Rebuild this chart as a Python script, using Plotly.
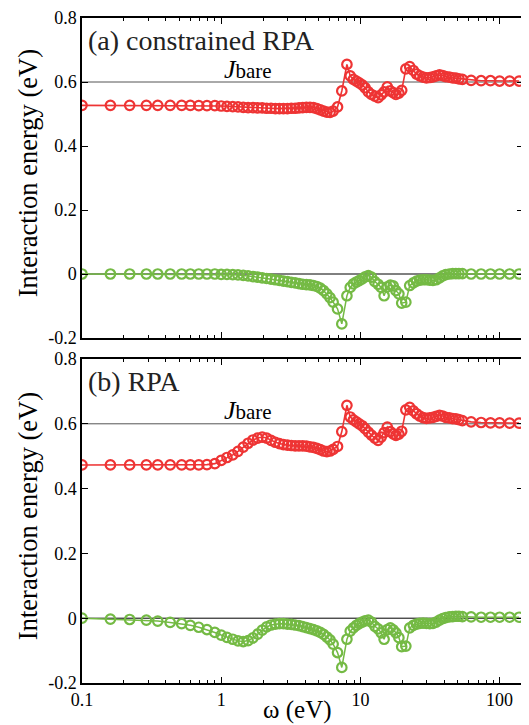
import plotly.graph_objects as go

omega = [0.10, 0.16, 0.22, 0.29, 0.35, 0.43, 0.52, 0.60, 0.69, 0.79, 0.90,
         1.00, 1.10, 1.21, 1.32, 1.44, 1.56, 1.69, 1.83, 1.97, 2.12,
         2.28, 2.45, 2.62, 2.80, 2.99, 3.19, 3.40, 3.62, 3.85, 4.09,
         4.34, 4.60, 4.87, 5.15, 5.44, 5.74, 6.05, 6.37, 6.85, 7.35,
         8.00, 8.45, 8.90, 9.35, 9.80, 10.3, 10.8, 11.4, 12.0, 12.7,
         13.4, 14.1, 14.8, 15.6, 16.4, 17.2, 18.0, 18.9, 19.8, 21.2, 22.6,
         24.0, 25.3, 26.7, 28.2, 29.8, 31.5, 33.2, 35.0, 37.0, 39.0,
         41.0, 43.5, 46.0, 48.5, 51.0, 54.0, 62.4, 73.6, 86.0, 100, 118, 138]

a_red = [0.527, 0.527, 0.527, 0.527, 0.527, 0.527, 0.527, 0.527, 0.526, 0.526, 0.526,
         0.525, 0.524, 0.523, 0.522, 0.521, 0.520, 0.520, 0.519, 0.519, 0.518,
         0.518, 0.517, 0.517, 0.517, 0.517, 0.518, 0.518, 0.519, 0.520, 0.521,
         0.521, 0.520, 0.517, 0.513, 0.509, 0.506, 0.505, 0.509, 0.522, 0.572,
         0.655, 0.619, 0.608, 0.603, 0.597, 0.591, 0.582, 0.569, 0.561, 0.556,
         0.551, 0.560, 0.569, 0.585, 0.572, 0.567, 0.561, 0.565, 0.574, 0.641, 0.648,
         0.636, 0.625, 0.619, 0.615, 0.613, 0.614, 0.616, 0.619, 0.622, 0.620,
         0.617, 0.615, 0.613, 0.612, 0.610, 0.608, 0.605, 0.604, 0.604, 0.603, 0.603, 0.603]

a_green = [0.000, 0.000, 0.000, 0.000, 0.000, 0.000, 0.000, 0.000, 0.000, 0.000, 0.000,
           -0.001, -0.001, -0.002, -0.003, -0.004, -0.006, -0.008, -0.010, -0.012, -0.014,
           -0.016, -0.018, -0.020, -0.022, -0.024, -0.026, -0.028, -0.030, -0.032, -0.033,
           -0.034, -0.036, -0.039, -0.044, -0.052, -0.062, -0.074, -0.088, -0.109, -0.156,
           -0.068, -0.042, -0.031, -0.025, -0.021, -0.015, -0.009, -0.005, -0.010, -0.024,
           -0.032, -0.042, -0.068, -0.040, -0.035, -0.037, -0.052, -0.062, -0.091, -0.088, -0.036,
           -0.028, -0.022, -0.019, -0.018, -0.018, -0.019, -0.020, -0.018, -0.012, -0.006,
           -0.002, 0.000, 0.001, 0.001, 0.001, 0.001, 0.000, 0.000, 0.000, 0.000, 0.000, 0.000]

b_red = [0.473, 0.473, 0.473, 0.473, 0.473, 0.473, 0.473, 0.473, 0.473, 0.474, 0.477,
         0.487, 0.496, 0.504, 0.515, 0.528, 0.540, 0.550, 0.556, 0.559, 0.556,
         0.549, 0.543, 0.539, 0.536, 0.534, 0.533, 0.532, 0.532, 0.532, 0.531,
         0.529, 0.527, 0.524, 0.520, 0.516, 0.514, 0.516, 0.521, 0.530, 0.576,
         0.657, 0.621, 0.612, 0.606, 0.600, 0.594, 0.585, 0.574, 0.565, 0.556,
         0.549, 0.559, 0.573, 0.590, 0.576, 0.569, 0.564, 0.568, 0.577, 0.643, 0.651,
         0.640, 0.631, 0.624, 0.619, 0.617, 0.618, 0.620, 0.623, 0.626, 0.624,
         0.620, 0.618, 0.616, 0.615, 0.613, 0.610, 0.606, 0.604, 0.603, 0.603, 0.602, 0.602]

b_green = [0.000, -0.003, -0.004, -0.006, -0.009, -0.013, -0.017, -0.022, -0.028, -0.035, -0.044,
           -0.052, -0.059, -0.065, -0.070, -0.072, -0.069, -0.061, -0.049, -0.037, -0.027,
           -0.021, -0.018, -0.017, -0.017, -0.018, -0.019, -0.021, -0.023, -0.026, -0.029,
           -0.032, -0.035, -0.039, -0.044, -0.050, -0.058, -0.067, -0.080, -0.106, -0.152,
           -0.065, -0.040, -0.030, -0.022, -0.017, -0.012, -0.008, -0.006, -0.012, -0.025,
           -0.033, -0.045, -0.065, -0.035, -0.030, -0.036, -0.045, -0.060, -0.088, -0.086, -0.030,
           -0.022, -0.018, -0.016, -0.015, -0.016, -0.017, -0.016, -0.012, -0.006, -0.001,
           0.002, 0.004, 0.005, 0.006, 0.006, 0.005, 0.004, 0.003, 0.003, 0.003, 0.003, 0.003]

panel_labels = ["(a) constrained RPA", "(b) RPA"]
j_bare = 0.6
x_ticks = [0.1, 1, 10, 100]
x_ticktext = ["0.1", "1", "10", "100"]
x_minor = [m * d for d in (0.1, 1, 10, 100) for m in range(2, 10)]
y_ticks = [-0.2, 0, 0.2, 0.4, 0.6, 0.8]
y_ticktext = ["-0.2", "0", "0.2", "0.4", "0.6", "0.8"]

RED = "#EE3434"
GREEN = "#74BA44"
FONT = "Liberation Serif, Times New Roman, serif"

# compensate for the 8px default page margin around the plot div
OFF = 8
W, H = 529 - OFF, 725 - OFF
ML, MR, MT, MB = 82 - OFF, 6, 18 - OFF, 42
PH = H - MT - MB
PW = W - ML - MR


def py(screen_y):
    return 1 - (screen_y - OFF - MT) / PH


fig = go.Figure()

for ax, (red, green) in zip(["", "2"], [(a_red, a_green), (b_red, b_green)]):
    fig.add_trace(go.Scatter(x=omega, y=green, mode="lines+markers", xaxis="x" + ax, yaxis="y" + ax,
                             line=dict(color=GREEN, width=1.5),
                             marker=dict(symbol="circle-open", size=9.5, color=GREEN, line=dict(width=2.2, color=GREEN)),
                             showlegend=False))
    fig.add_trace(go.Scatter(x=omega, y=red, mode="lines+markers", xaxis="x" + ax, yaxis="y" + ax,
                             line=dict(color=RED, width=1.6),
                             marker=dict(symbol="circle-open", size=9.5, color=RED, line=dict(width=2.2, color=RED)),
                             showlegend=False))

xcommon = dict(type="log", range=[-1, 2.168], showgrid=False, zeroline=False, automargin=False,
               showline=True, linecolor="black", linewidth=1.5, mirror="ticks",
               ticks="inside", ticklen=6, tickcolor="black", tickwidth=1,
               tickvals=x_ticks, ticktext=x_ticktext, ticklabeloverflow="allow",
               minor=dict(tickvals=x_minor, ticks="inside", ticklen=3, tickcolor="black", tickwidth=1),
               tickfont=dict(family=FONT, size=18, color="black"))
ycommon = dict(range=[-0.2, 0.8], showgrid=False, zeroline=False, automargin=False,
               showline=True, linecolor="black", linewidth=1.5, mirror="ticks",
               ticks="inside", ticklen=6, tickcolor="black", tickwidth=1,
               tickvals=y_ticks, ticktext=y_ticktext, ticklabeloverflow="allow",
               tickfont=dict(family=FONT, size=18, color="black"))

top_dom = [py(338), 1.0]
bot_dom = [0.0, py(359)]

fig.update_layout(
    width=W, height=H,
    margin=dict(l=ML, r=MR, t=MT, b=MB, autoexpand=False),
    paper_bgcolor="white", plot_bgcolor="white",
    font=dict(family=FONT, color="black"),
    xaxis=dict(**xcommon, anchor="y", showticklabels=False),
    yaxis=dict(**ycommon, domain=top_dom, anchor="x"),
    xaxis2=dict(**xcommon, anchor="y2"),
    yaxis2=dict(**ycommon, domain=bot_dom, anchor="x2"),
)

shapes = []
for xr, yr in [("x", "y"), ("x2", "y2")]:
    shapes.append(dict(type="line", xref=xr + " domain", yref=yr, x0=0, x1=1, y0=j_bare, y1=j_bare,
                       line=dict(color="#555555", width=1), layer="below"))
    shapes.append(dict(type="line", xref=xr + " domain", yref=yr, x0=0, x1=1, y0=0, y1=0,
                       line=dict(color="black", width=1), layer="below"))
fig.update_layout(shapes=shapes)

annotations = []
for xr, yr, lab in [("x", "y", panel_labels[0]), ("x2", "y2", panel_labels[1])]:
    annotations.append(dict(xref=xr + " domain", yref=yr + " domain", x=0.01, y=0.93,
                            xanchor="left", yanchor="middle", showarrow=False, text=lab,
                            font=dict(family=FONT, size=28, color="#222222")))
    annotations.append(dict(xref=xr + " domain", yref=yr + " domain", x=0.376, y=0.84,
                            xanchor="center", yanchor="middle", showarrow=False,
                            text="<i>J</i><span style='font-size:21px'>bare</span>",
                            font=dict(family=FONT, size=26, color="black")))
    annotations.append(dict(xref="paper", yref=yr + " domain", x=(28 - OFF - ML) / PW, y=0.515,
                            xanchor="center", yanchor="middle", showarrow=False, textangle=-90,
                            text="Interaction energy (eV)",
                            font=dict(family=FONT, size=26.5, color="black")))
annotations.append(dict(xref="paper", yref="paper", x=(297 - OFF - ML) / PW, y=py(710),
                        xanchor="center", yanchor="middle", showarrow=False,
                        text="ω (eV)", font=dict(family=FONT, size=25, color="black")))
fig.update_layout(annotations=annotations)

fig.write_html("out.html")
